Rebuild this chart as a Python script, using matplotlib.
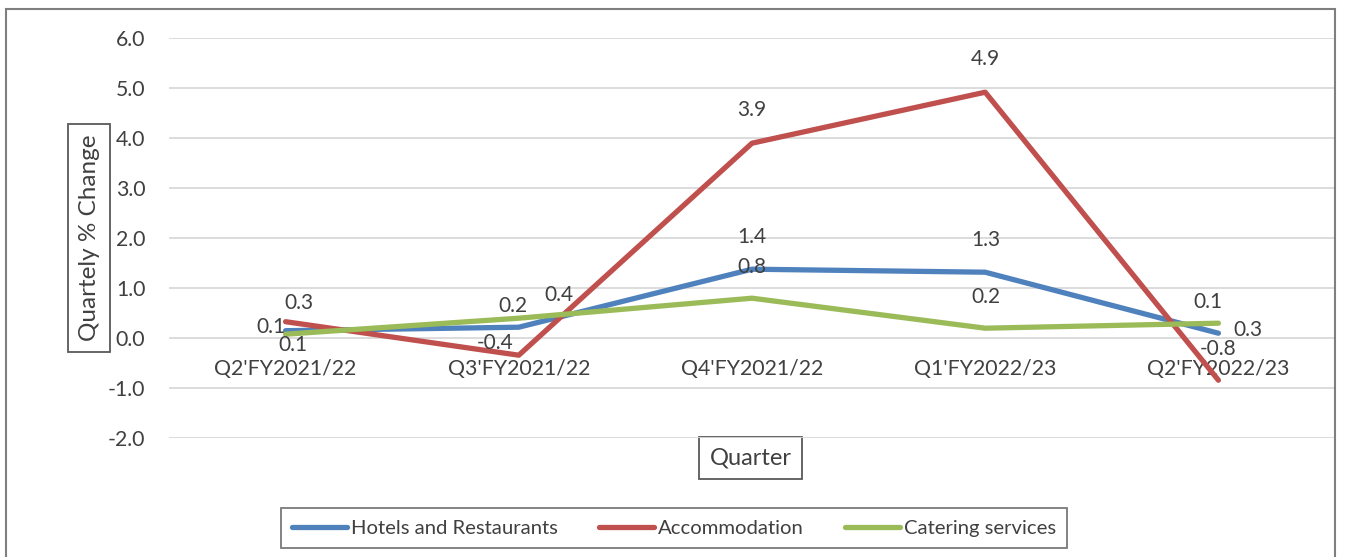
import matplotlib
matplotlib.use("Agg")
import matplotlib.pyplot as plt
from matplotlib.patches import Rectangle

plt.rcParams["font.family"] = ["Lato", "DejaVu Sans"]

quarters = ["Q2'FY2021/22", "Q3'FY2021/22", "Q4'FY2021/22", "Q1'FY2022/23", "Q2'FY2022/23"]
hotels = [0.14, 0.21, 1.37, 1.31, 0.09]
accommodation = [0.32, -0.35, 3.89, 4.91, -0.85]
catering = [0.07, 0.39, 0.79, 0.19, 0.29]

hotels_labels = ["0.1", "0.2", "1.4", "1.3", "0.1"]
accommodation_labels = ["0.3", "-0.4", "3.9", "4.9", "-0.8"]
catering_labels = ["0.1", "0.4", "0.8", "0.2", "0.3"]

series = [
    ("Hotels and Restaurants", hotels, hotels_labels, "#4F81BD"),
    ("Accommodation", accommodation, accommodation_labels, "#C0504D"),
    ("Catering services", catering, catering_labels, "#9BBB59"),
]

# label offsets in pixels (dx, dy up) for each series / point
label_offsets = {
    "Hotels and Restaurants": [(-15, 4), (-6, 21), (0, 32), (1, 32), (-10, 31)],
    "Accommodation": [(13, 19), (-24, 12), (0, 33), (0, 33), (0, 31)],
    "Catering services": [(7, -11), (40, 23), (0, 31), (1, 31), (30, -7)],
}

text_color = "#404040"

fig = plt.figure(figsize=(13.56, 5.57), dpi=100)
ax = fig.add_axes([169 / 1356, 1 - 437.7 / 557, 1166 / 1356, 400 / 557])

x = list(range(len(quarters)))
for name, values, labels, color in series:
    ax.plot(x, values, color=color, linewidth=3.8, label=name, solid_capstyle="round")
    for i, (v, lab) in enumerate(zip(values, labels)):
        dx, dy = label_offsets[name][i]
        ax.annotate(lab, (i, v), xytext=(dx, dy), textcoords="offset pixels",
                    ha="center", va="center", fontsize=15, color=text_color)

ax.set_xlim(-0.5, len(quarters) - 0.5)
ax.set_ylim(-2, 6)
ax.set_yticks(range(-2, 7))
ax.set_yticklabels([f"{v:.1f}" for v in range(-2, 7)])
ax.set_xticks(x)
ax.set_xticklabels(quarters)

ax.grid(axis="y", color="#D9D9D9", linewidth=1.3)
ax.set_axisbelow(True)
for s in ax.spines.values():
    s.set_visible(False)
ax.spines["bottom"].set_position(("data", 0))
ax.tick_params(axis="both", length=0, labelsize=15.3, colors=text_color)
ax.tick_params(axis="y", pad=17)
ax.tick_params(axis="x", pad=15)

box = dict(boxstyle="square,pad=0.45", fc="white", ec="#595959", lw=1.3)
ax.set_ylabel("Quartely % Change", fontsize=17.5, color=text_color, bbox=box)
ax.yaxis.label.set_verticalalignment("center")
ax.yaxis.set_label_coords(-0.0686, 0.5)
ax.set_xlabel("Quarter", fontsize=17, color=text_color, bbox=box)
ax.xaxis.label.set_verticalalignment("center")
ax.xaxis.set_label_coords(0.499, -0.051)

leg = fig.legend(loc="center", bbox_to_anchor=(674 / 1356, 1 - 528 / 557), ncol=3,
                 fontsize=14.6, frameon=True, fancybox=False, edgecolor="#595959",
                 handlelength=2.7, handletextpad=0.2, columnspacing=2.05,
                 borderpad=0.55, borderaxespad=0)
leg.get_frame().set_linewidth(1.3)
for t in leg.get_texts():
    t.set_color(text_color)

fig.patches.append(Rectangle((6 / 1356, -0.1), 1329 / 1356, 1.1 - 9 / 557,
                             transform=fig.transFigure, fill=False,
                             edgecolor="#7F7F7F", linewidth=1.5))

fig.savefig("out.png", dpi=100)
